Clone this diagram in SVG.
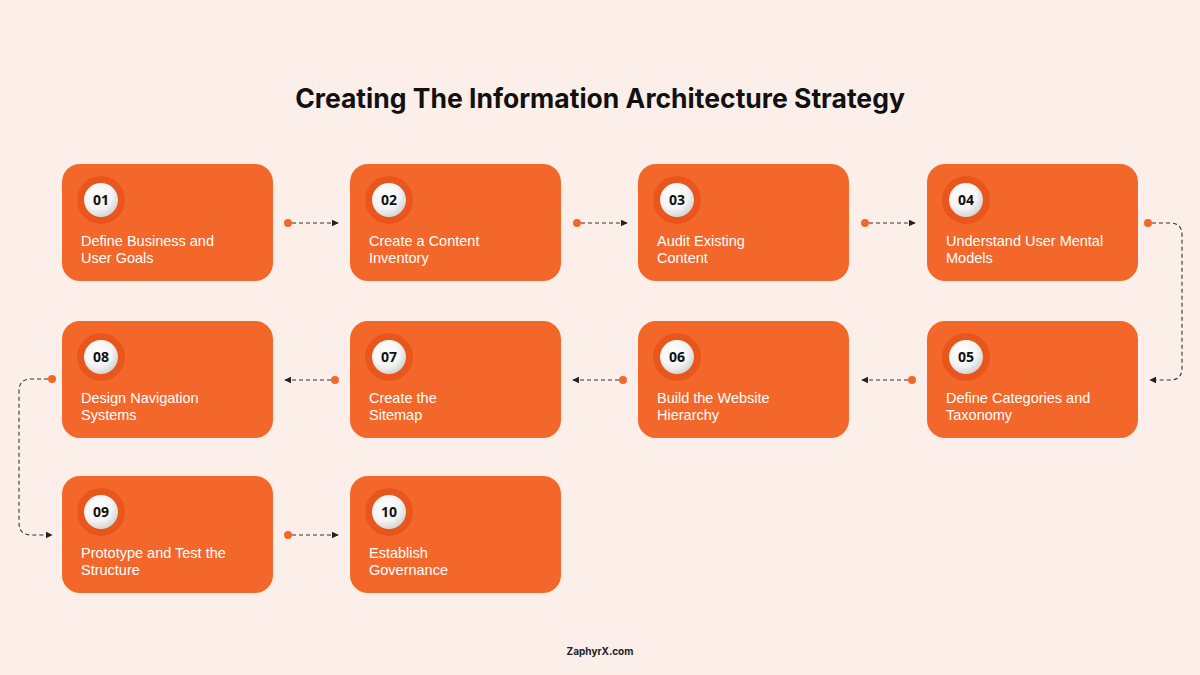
<svg xmlns="http://www.w3.org/2000/svg" width="1200" height="675" viewBox="0 0 1200 675">
<defs>
<style>
.box{fill:#f4672a}
.ring{fill:#e8561c}
.num{font-family:"Open Sans","Liberation Sans",sans-serif;font-weight:700;font-size:14px;fill:#111;text-anchor:middle}
.lbl{font-family:"Liberation Sans",Arial,sans-serif;font-size:14.5px;fill:#fff}
.dash{fill:none;stroke:#333;stroke-width:1.1;stroke-dasharray:4 3}
.dot{fill:#f4672a}
</style>
<radialGradient id="wg" cx="0.4" cy="0.35" r="0.7">
<stop offset="0" stop-color="#ffffff"/>
<stop offset="0.6" stop-color="#f4f4f4"/>
<stop offset="1" stop-color="#cfcfcf"/>
</radialGradient>
<marker id="ah" viewBox="0 0 10 10" refX="9" refY="5" markerWidth="7" markerHeight="7" markerUnits="userSpaceOnUse" orient="auto">
<path d="M0,0 L10,5 L0,10 z" fill="#222"/>
</marker>
<g id="badge">
<circle r="24" class="ring"/>
<circle r="17" fill="url(#wg)"/>
</g>
</defs>
<rect width="1200" height="675" fill="#fcefea"/>
<text x="600" y="108" text-anchor="middle" font-family="Inter,'Liberation Sans',sans-serif" font-weight="700" font-size="26.5" fill="#111">Creating The Information Architecture Strategy</text>

<g id="connectors">
<circle class="dot" cx="288" cy="223" r="4"/><path class="dash" d="M292,223 H338" marker-end="url(#ah)"/>
<circle class="dot" cx="577" cy="223" r="4"/><path class="dash" d="M581,223 H627" marker-end="url(#ah)"/>
<circle class="dot" cx="865" cy="223" r="4"/><path class="dash" d="M869,223 H915" marker-end="url(#ah)"/>
<circle class="dot" cx="1148" cy="223" r="4"/><path class="dash" d="M1152,223 H1170 Q1182,223 1182,235 V368 Q1182,380 1170,380 H1150" marker-end="url(#ah)"/>
<circle class="dot" cx="912" cy="380" r="4"/><path class="dash" d="M908,380 H862" marker-end="url(#ah)"/>
<circle class="dot" cx="623" cy="380" r="4"/><path class="dash" d="M619,380 H573" marker-end="url(#ah)"/>
<circle class="dot" cx="335" cy="380" r="4"/><path class="dash" d="M331,380 H285" marker-end="url(#ah)"/>
<circle class="dot" cx="52" cy="379" r="4"/><path class="dash" d="M48,379 H31 Q19,379 19,391 V523 Q19,535 31,535 H52" marker-end="url(#ah)"/>
<circle class="dot" cx="288" cy="535" r="4"/><path class="dash" d="M292,535 H338" marker-end="url(#ah)"/>
</g>

<g id="node01"><rect class="box" x="62" y="164" width="211" height="117" rx="18"/><use href="#badge" x="101" y="200"/><text class="num" x="101" y="205">01</text><text class="lbl" x="81" y="246">Define Business and</text><text class="lbl" x="81" y="263">User Goals</text></g>
<g id="node02"><rect class="box" x="350" y="164" width="211" height="117" rx="18"/><use href="#badge" x="389" y="200"/><text class="num" x="389" y="205">02</text><text class="lbl" x="369" y="246">Create a Content</text><text class="lbl" x="369" y="263">Inventory</text></g>
<g id="node03"><rect class="box" x="638" y="164" width="211" height="117" rx="18"/><use href="#badge" x="677" y="200"/><text class="num" x="677" y="205">03</text><text class="lbl" x="657" y="246">Audit Existing</text><text class="lbl" x="657" y="263">Content</text></g>
<g id="node04"><rect class="box" x="927" y="164" width="211" height="117" rx="18"/><use href="#badge" x="966" y="200"/><text class="num" x="966" y="205">04</text><text class="lbl" x="946" y="246">Understand User Mental</text><text class="lbl" x="946" y="263">Models</text></g>
<g id="node05"><rect class="box" x="927" y="321" width="211" height="117" rx="18"/><use href="#badge" x="966" y="357"/><text class="num" x="966" y="362">05</text><text class="lbl" x="946" y="403">Define Categories and</text><text class="lbl" x="946" y="420">Taxonomy</text></g>
<g id="node06"><rect class="box" x="638" y="321" width="211" height="117" rx="18"/><use href="#badge" x="677" y="357"/><text class="num" x="677" y="362">06</text><text class="lbl" x="657" y="403">Build the Website</text><text class="lbl" x="657" y="420">Hierarchy</text></g>
<g id="node07"><rect class="box" x="350" y="321" width="211" height="117" rx="18"/><use href="#badge" x="389" y="357"/><text class="num" x="389" y="362">07</text><text class="lbl" x="369" y="403">Create the</text><text class="lbl" x="369" y="420">Sitemap</text></g>
<g id="node08"><rect class="box" x="62" y="321" width="211" height="117" rx="18"/><use href="#badge" x="101" y="357"/><text class="num" x="101" y="362">08</text><text class="lbl" x="81" y="403">Design Navigation</text><text class="lbl" x="81" y="420">Systems</text></g>
<g id="node09"><rect class="box" x="62" y="476" width="211" height="117" rx="18"/><use href="#badge" x="101" y="512"/><text class="num" x="101" y="517">09</text><text class="lbl" x="81" y="558">Prototype and Test the</text><text class="lbl" x="81" y="575">Structure</text></g>
<g id="node10"><rect class="box" x="350" y="476" width="211" height="117" rx="18"/><use href="#badge" x="389" y="512"/><text class="num" x="389" y="517">10</text><text class="lbl" x="369" y="558">Establish</text><text class="lbl" x="369" y="575">Governance</text></g>

<text x="600" y="655" text-anchor="middle" font-family="Inter,'Liberation Sans',sans-serif" font-weight="700" font-size="10" fill="#222">ZaphyrX.com</text>
</svg>
